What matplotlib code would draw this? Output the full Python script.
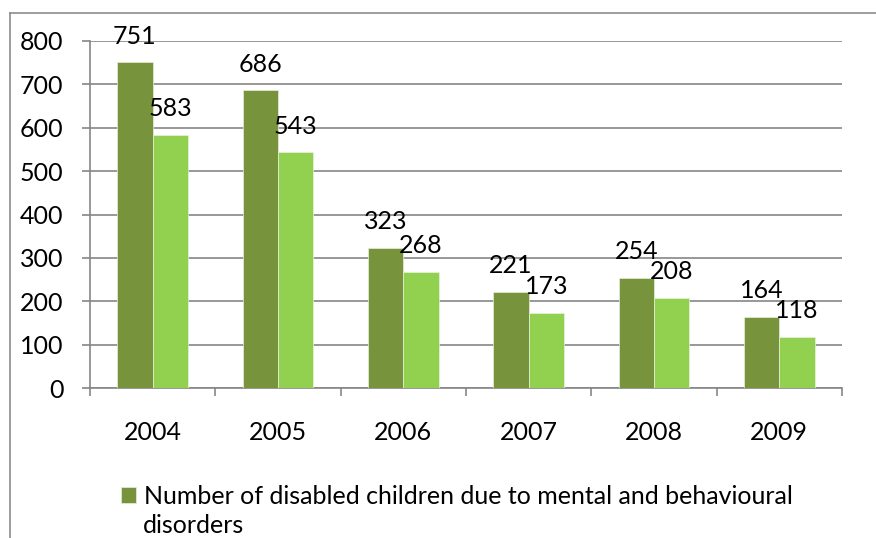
import matplotlib
matplotlib.use("Agg")
import matplotlib.pyplot as plt
import numpy as np
from matplotlib.lines import Line2D

plt.rcParams['font.family'] = ['Lato', 'DejaVu Sans']

years = ['2004', '2005', '2006', '2007', '2008', '2009']
disabled_mental = [751, 686, 323, 221, 254, 164]
second_series = [583, 543, 268, 173, 208, 118]
legend_label = 'Number of disabled children due to mental and behavioural'
legend_label_cont = 'disorders'

dark_green = '#77933C'
light_green = '#92D050'
grid_grey = '#868686'
fs = 18

W, H = 876, 538
fig = plt.figure(figsize=(W / 100, H / 100), dpi=100)
ax = fig.add_axes([90 / W, 1 - 388 / H, (842 - 90) / W, (388 - 41) / H])

x = np.arange(len(years))
bw = 0.283
b1 = ax.bar(x - bw / 2, disabled_mental, bw, color=dark_green, edgecolor='#e8f0dc', linewidth=0.5, zorder=3)
b2 = ax.bar(x + bw / 2, second_series, bw, color=light_green, edgecolor='#e8f0dc', linewidth=0.5, zorder=3)

for bars, vals in ((b1, disabled_mental), (b2, second_series)):
    for rect, v in zip(bars, vals):
        ax.annotate(str(v), (rect.get_x() + rect.get_width() / 2, v),
                    xytext=(0, 13.5), textcoords='offset points',
                    ha='center', va='baseline', fontsize=fs, zorder=4)

ax.set_xlim(-0.5, len(years) - 0.5)
ax.set_ylim(0, 800)
ax.set_yticks(range(0, 801, 100))
ax.yaxis.grid(True, color=grid_grey, linewidth=1.2, zorder=0)

# category labels in the middle, ticks between categories
ax.set_xticks(x)
ax.set_xticklabels(years)
ax.set_xticks(np.arange(-0.5, len(years)), minor=True)
ax.tick_params(axis='x', which='major', length=0, pad=24, labelsize=fs)
ax.tick_params(axis='x', which='minor', length=6, width=1.2, color=grid_grey, direction='out')
ax.tick_params(axis='y', length=6, width=1.2, color=grid_grey, pad=13, labelsize=fs)

for side in ('top', 'right'):
    ax.spines[side].set_visible(False)
for side in ('left', 'bottom'):
    ax.spines[side].set_color(grid_grey)
    ax.spines[side].set_linewidth(1.2)

leg = fig.legend([b1], [legend_label], loc='upper left',
                 bbox_to_anchor=(121 / W, 1 - 485 / H), frameon=False,
                 fontsize=fs, handlelength=0.6, handleheight=0.6,
                 handletextpad=0.3, borderpad=0, borderaxespad=0)
fig.text(143 / W, 1 - 537 / H, legend_label_cont, fontsize=fs, ha='left', va='bottom')

# chart area border, clipped at the right and bottom
fig.add_artist(Line2D([9.5 / W, 9.5 / W], [0, 1 - 13 / H], color='#8c8c8c', linewidth=1.2))
fig.add_artist(Line2D([9.5 / W, 1], [1 - 13 / H, 1 - 13 / H], color='#8c8c8c', linewidth=1.2))

fig.savefig('out.png', dpi=100)
